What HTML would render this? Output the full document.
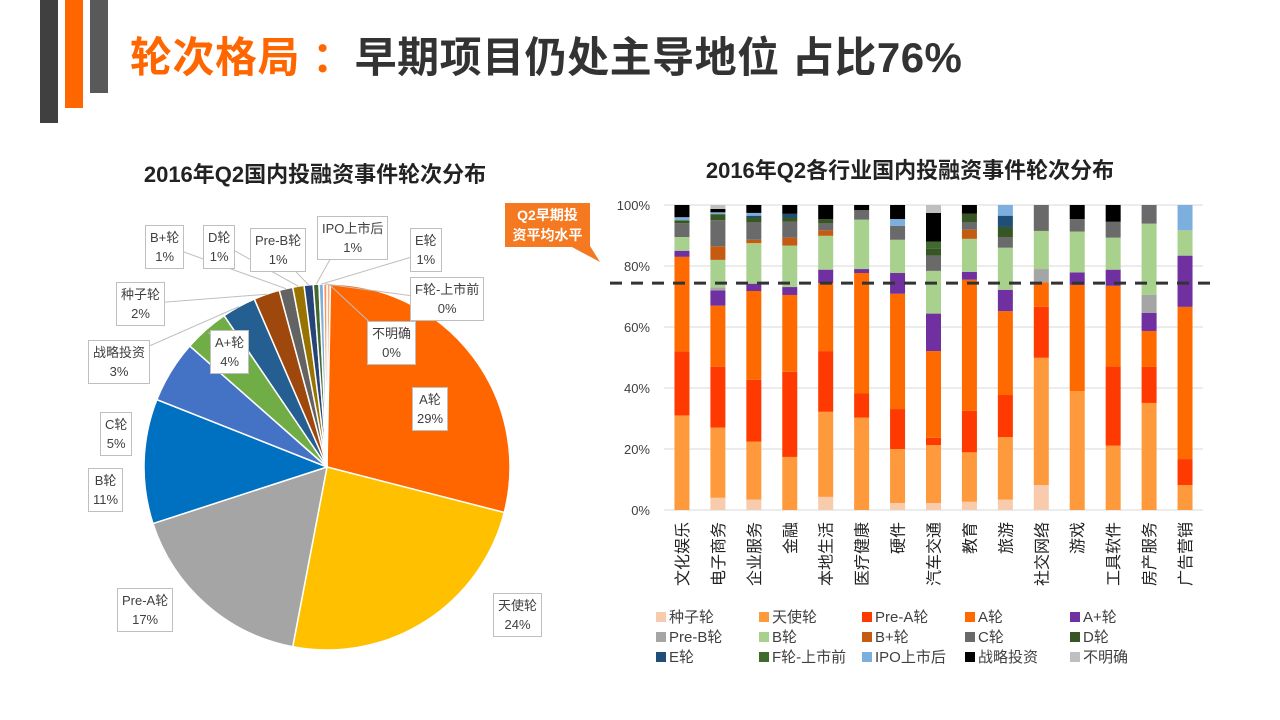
<!DOCTYPE html>
<html><head><meta charset="utf-8">
<style>
body{margin:0;width:1280px;height:720px;background:#fff;overflow:hidden;font-family:"Liberation Sans","Noto Sans CJK SC",sans-serif;position:relative}
.abs{position:absolute}
.lbl{position:absolute;background:#fff;border:1px solid #bfbfbf;font-size:13px;color:#404040;text-align:center;line-height:19px;padding:2px 4px}
.leg{position:absolute;font-size:15px;color:#404040;display:flex;align-items:center}
.leg span{display:inline-block;width:10px;height:10px;margin-right:3px}
</style></head><body>
<div class="abs" style="left:40px;top:0;width:18px;height:123px;background:#404040"></div>
<div class="abs" style="left:65px;top:0;width:18px;height:108px;background:#FF6600"></div>
<div class="abs" style="left:90px;top:0;width:18px;height:93px;background:#595959"></div>
<div class="abs" style="left:130px;top:24px;font-size:42px;letter-spacing:0.5px;font-weight:bold;color:#333;white-space:nowrap"><span style="color:#FF6600">轮次格局 ：</span>早期项目仍处主导地位 占比76%</div>
<div class="abs" style="left:60px;width:510px;top:157px;text-align:center;font-size:22px;font-weight:bold;color:#222">2016年Q2国内投融资事件轮次分布</div>
<div class="abs" style="left:640px;width:540px;top:153px;text-align:center;font-size:22px;font-weight:bold;color:#222">2016年Q2各行业国内投融资事件轮次分布</div>

<svg class="abs" style="left:0;top:0" width="1280" height="720">
<g id="pie"></g>
<g id="bars"></g>
</svg>

<div class="abs" style="left:505px;top:203px;width:85px;height:44px;background:#F47920;color:#fff;font-weight:bold;font-size:14px;text-align:center;line-height:20px;padding-top:2px;box-sizing:border-box">Q2早期投<br>资平均水平</div>
<svg class="abs" style="left:560px;top:246px" width="45" height="20"><polygon points="10,0 30,0 40,16" fill="#F47920"/></svg>

<div id="labels"></div>
<div id="legend"></div>

<script>
// Pie data
const pieNames=["不明确","A轮","天使轮","Pre-A轮","B轮","C轮","A+轮","战略投资","种子轮","B+轮","D轮","Pre-B轮","IPO上市后","E轮","F轮-上市前"];
const pieValues=[0.3,28.7,24,17,11,5.5,4,3,2.3,1.2,1,0.8,0.5,0.4,0.3];
const pieLabels=["0%","29%","24%","17%","11%","5%","4%","3%","2%","1%","1%","1%","1%","1%","0%"];
const pieColors=["#F4B183","#FF6600","#FFC000","#A5A5A5","#0070C0","#4472C4","#70AD47","#255E91","#9E480E","#636363","#997300","#264478","#43682B","#7CAFDD","#F1975A"];
const pieBoxes=[[367,321],[412,387],[493,593],[117,588],[88,468],[100,412],[210,330],[88,340],[116,282],[145,225],[203,225],[250,228],[317,216],[410,228],[410,277]];

// Bar data
const categories=["文化娱乐","电子商务","企业服务","金融","本地生活","医疗健康","硬件","汽车交通","教育","旅游","社交网络","游戏","工具软件","房产服务","广告营销"];
const seriesNames=["种子轮","天使轮","Pre-A轮","A轮","A+轮","Pre-B轮","B轮","B+轮","C轮","D轮","E轮","F轮-上市前","IPO上市后","战略投资","不明确"];
const seriesColors=["#F8CBAD","#FF9A3C","#FF3A00","#FF6A00","#7030A0","#A5A5A5","#A9D18E","#C55A11","#6A6A6A","#375623","#1F4E79","#3F6B2F","#7CAFDD","#000000","#BFBFBF"];
const s_seed=[0,4,3.4,0,4.3,0,2.3,2.3,2.7,3.4,8.2,0,0,0,0];
const s_angel=[31,23,19,17.4,27.9,30.3,17.7,19,16.2,20.5,41.7,39,21.1,35.1,8.2];
const s_preA=[21,20,20.3,27.9,19.9,7.9,13.1,2.4,13.6,13.8,16.7,0,26,11.8,8.5];
const s_A=[31,20,29.1,25.2,22.3,39.5,37.8,28.4,43,27.5,8,34.8,26.4,11.8,49.9];
const s_Aplus=[2,5,2.4,2.6,4.4,1.3,6.8,12.3,2.6,7,0,4.1,5.3,5.9,16.8];
const s_preB=[0,1,0,0,0,0,0,0,0,0,4.4,0,0,5.9,0];
const s_B=[4.5,9,13.3,13.6,11.1,16.2,10.9,14,10.8,13.8,12.5,13.4,10.5,23.4,8.3];
const s_Bplus=[0,4.5,1.1,2.6,1.8,0,0,0,3,0,0,0,0,0,0];
const s_C=[4.5,8.5,5.7,5.2,2.4,3.1,4.6,5,2.4,3.5,8.5,4.1,5.2,6.1,0];
const s_D=[1,2,1.6,1.4,1.3,0,0,2.2,2.9,3.3,0,0,0,0,0];
const s_E=[0,0,0.6,1.2,0,0,0,0,0,3.7,0,0,0,0,0];
const s_F=[0,0,0,0,0,0,0,2.4,0,0,0,0,0,0,0];
const s_IPO=[1,0.6,0.9,0,0,0,2.2,0,0,3.5,0,0,0,0,8.3];
const s_strat=[4,1.1,2.6,2.9,4.6,1.7,4.6,9.4,2.8,0,0,4.6,5.5,0,0];
const s_unknown=[0,1.3,0,0,0,0,0,2.6,0,0,0,0,0,0,0];
const seriesValues=[s_seed,s_angel,s_preA,s_A,s_Aplus,s_preB,s_B,s_Bplus,s_C,s_D,s_E,s_F,s_IPO,s_strat,s_unknown];
const yTicks=[0,20,40,60,80,100];
const avgEarly=74.4;

const NS="http://www.w3.org/2000/svg";
function mk(tag,attrs,parent){const e=document.createElementNS(NS,tag);for(const k in attrs)e.setAttribute(k,attrs[k]);parent.appendChild(e);return e;}

// ---- Pie ----
const pie=document.getElementById('pie');
const cx=327,cy=467,r=183;
const tot=pieValues.reduce((a,b)=>a+b,0);
let ang=0;
const mids=[];
pieValues.forEach((v,i)=>{
  const a0=ang/tot*2*Math.PI, a1=(ang+v)/tot*2*Math.PI; ang+=v;
  const p=t=>[cx+r*Math.sin(t),cy-r*Math.cos(t)];
  const [x0,y0]=p(a0),[x1,y1]=p(a1);
  const path=mk('path',{d:`M${cx},${cy}L${x0},${y0}A${r},${r} 0 ${a1-a0>Math.PI?1:0} 1 ${x1},${y1}Z`,fill:pieColors[i],stroke:'#fff','stroke-width':1.5},pie);
  
  
  mids.push((a0+a1)/2);
});
const labDiv=document.getElementById('labels');
pieNames.forEach((n,i)=>{
  const [bx,by]=pieBoxes[i];
  const m=mids[i];
  const inside=(i>=1&&i<=6);
  const px=cx+(inside?r*0.98:r)*Math.sin(m), py=cy-(inside?r*0.98:r)*Math.cos(m);
  const d=document.createElement('div');
  d.className='lbl';d.style.left=bx+'px';d.style.top=by+'px';
  d.innerHTML=n+'<br>'+pieLabels[i];
  
  
  labDiv.appendChild(d);
  if(!(i>=1&&i<=5)){
    const ln=mk('line',{x1:bx+25,y1:by+22,x2:px,y2:py,stroke:'#bfbfbf','stroke-width':1},pie);
    
    
  }
});

// ---- Bars ----
const bars=document.getElementById('bars');
const X0=664,X1=1203,Y0=510,Y1=205;
const y=v=>Y0-(v/100)*(Y0-Y1);
const step=(X1-X0)/categories.length, bw=15;
const xc=i=>X0+step*(i+0.5);
yTicks.forEach(t=>{
  const g=mk('line',{x1:X0,x2:X1,y1:y(t),y2:y(t),stroke:'#d9d9d9','stroke-width':1},bars);
  
  
  const tx=mk('text',{x:650,y:y(t)+5,'text-anchor':'end','font-size':13,fill:'#404040'},bars);
  tx.textContent=t+'%';
  
  
});
categories.forEach((c,i)=>{
  let acc=0;
  seriesValues.forEach((s,k)=>{
    const v=s[i]; if(v<=0)return;
    const rc=mk('rect',{x:xc(i)-bw/2,y:y(acc+v),width:bw,height:y(acc)-y(acc+v),fill:seriesColors[k]},bars);
    
    
    acc+=v;
  });
  const tx=mk('text',{transform:`translate(${xc(i)+6},522) rotate(-90)`,'text-anchor':'end','font-size':16,fill:'#222'},bars);
  tx.textContent=c;
  
  
});
const dl=mk('line',{x1:610,x2:1212,y1:y(avgEarly),y2:y(avgEarly),stroke:'#333','stroke-width':3,'stroke-dasharray':'12,9'},bars);



// legend
const lg=document.getElementById('legend');
const colX=[656,759,862,965,1070], rowY=[606,626,646];
seriesNames.forEach((n,k)=>{
  const d=document.createElement('div');d.className='leg';
  d.style.left=colX[k%5]+'px';d.style.top=rowY[Math.floor(k/5)]+'px';
  d.innerHTML='<span style="background:'+seriesColors[k]+'"></span>'+n;
  
  
  lg.appendChild(d);
});
</script>
</body></html>
